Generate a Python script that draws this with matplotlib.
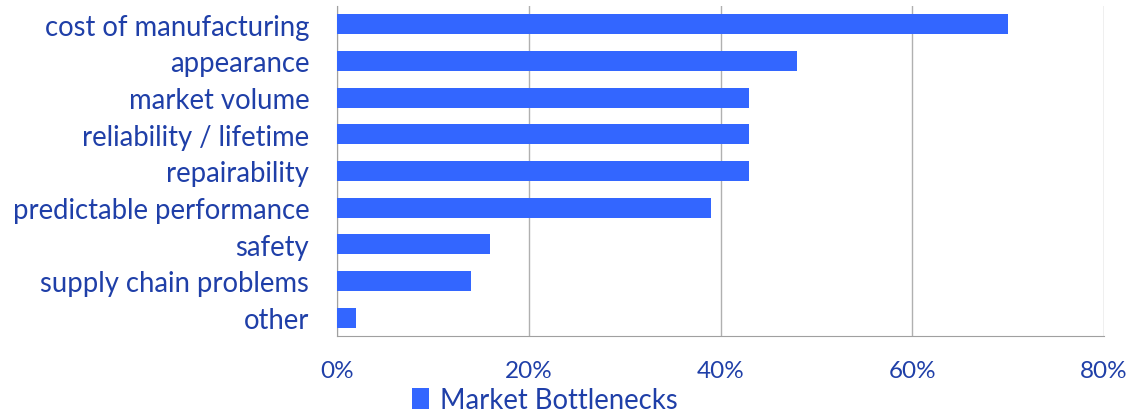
import matplotlib
matplotlib.use("Agg")
import matplotlib.pyplot as plt
from matplotlib.ticker import FuncFormatter

categories = ["cost of manufacturing", "appearance", "market volume",
              "reliability / lifetime", "repairability", "predictable performance",
              "safety", "supply chain problems", "other"]
values = [70, 48, 43, 43, 43, 39, 16, 14, 2]
series_name = "Market Bottlenecks"
x_ticks = [0, 20, 40, 60, 80]

bar_color = "#3366FF"
text_color = "#1F3FA8"
font = ["Lato", "DejaVu Sans"]

fig = plt.figure(figsize=(11.32, 4.14), dpi=100)
ax = fig.add_axes([337/1132, 1-337/414, (1104-337)/1132, 330/414])

y = list(range(len(categories)))[::-1]
ax.barh(y, values, height=0.55, color=bar_color, label=series_name, zorder=3)
ax.set_xlim(0, 80)
ax.set_ylim(-0.5, len(categories) - 0.5)
ax.set_yticks(y)
ax.set_yticklabels(categories, fontsize=19.8, color=text_color, family=font)
ax.set_xticks(x_ticks)
ax.xaxis.set_major_formatter(FuncFormatter(lambda v, p: f"{int(v)}%"))
for lab in ax.get_xticklabels():
    lab.set_fontsize(17.5)
    lab.set_color(text_color)
    lab.set_family(font)
ax.tick_params(axis="both", length=0)
ax.tick_params(axis="x", pad=17)
ax.tick_params(axis="y", pad=20)
ax.grid(axis="x", color="#B0B0B0", linewidth=1, zorder=0)
for s in ["top", "right"]:
    ax.spines[s].set_visible(False)
ax.spines["left"].set_color("#A0A0A0")
ax.spines["bottom"].set_color("#A0A0A0")

fig.legend(loc="center", bbox_to_anchor=(545/1132, 1-401/414), frameon=False,
           prop={"family": font, "size": 19.8}, labelcolor=text_color,
           handlelength=0.6, handleheight=0.8, handletextpad=0.4,
           borderpad=0, borderaxespad=0)

fig.savefig("out.png", dpi=100)
